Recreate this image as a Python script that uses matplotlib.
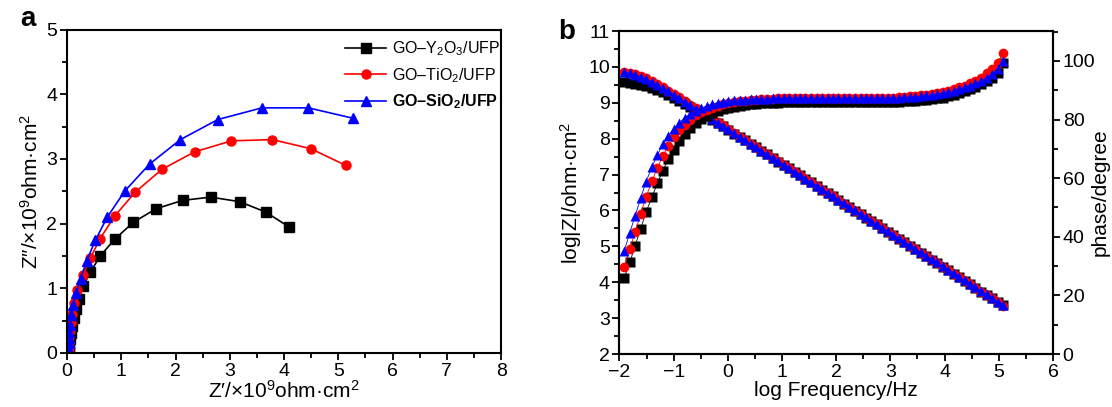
import matplotlib
matplotlib.use("Agg")
import matplotlib.pyplot as plt
from matplotlib.ticker import MultipleLocator

plt.rcParams['font.family'] = ['Liberation Sans', 'DejaVu Sans']
plt.rcParams['mathtext.fontset'] = 'custom'
plt.rcParams['mathtext.rm'] = 'Liberation Sans'
plt.rcParams['mathtext.it'] = 'Liberation Sans:italic'
plt.rcParams['mathtext.bf'] = 'Liberation Sans:bold'
plt.rcParams['mathtext.default'] = 'regular'

labels = ["GO–Y$_2$O$_3$/UFP", "GO–TiO$_2$/UFP", r"$\mathbf{GO–SiO_2/UFP}$"]
colors = ["black", "red", "blue"]
markers = ["s", "o", "^"]

# ---- Panel a: Nyquist data (x10^9 ohm cm2)
y2o3_zre = [4.09, 3.66, 3.18, 2.65, 2.13, 1.64, 1.22, 0.88, 0.61, 0.43, 0.30, 0.22, 0.16, 0.12, 0.09, 0.07, 0.055, 0.045, 0.04, 0.035]
y2o3_zim = [1.95, 2.18, 2.34, 2.41, 2.36, 2.23, 2.02, 1.76, 1.50, 1.25, 1.04, 0.84, 0.68, 0.54, 0.42, 0.31, 0.22, 0.14, 0.07, 0.02]
tio2_zre = [5.14, 4.49, 3.78, 3.03, 2.35, 1.75, 1.26, 0.88, 0.61, 0.43, 0.29, 0.19, 0.13, 0.09, 0.065, 0.05, 0.04, 0.035, 0.03, 0.03]
tio2_zim = [2.90, 3.16, 3.30, 3.28, 3.11, 2.84, 2.49, 2.12, 1.77, 1.47, 1.20, 0.97, 0.77, 0.60, 0.46, 0.34, 0.24, 0.15, 0.08, 0.02]
sio2_zre = [5.27, 4.45, 3.59, 2.78, 2.09, 1.52, 1.07, 0.74, 0.52, 0.36, 0.25, 0.17, 0.11, 0.08, 0.06, 0.045, 0.035, 0.03, 0.025, 0.02]
sio2_zim = [3.63, 3.79, 3.79, 3.61, 3.30, 2.92, 2.51, 2.10, 1.74, 1.42, 1.15, 0.93, 0.74, 0.58, 0.44, 0.33, 0.23, 0.15, 0.08, 0.02]

# ---- Panel b: Bode data
logf = [-1.91, -1.81, -1.71, -1.61, -1.51, -1.40, -1.30, -1.20, -1.10, -1.00,
        -0.90, -0.80, -0.69, -0.59, -0.49, -0.39, -0.29, -0.19, -0.09, 0.01,
        0.12, 0.22, 0.32, 0.42, 0.52, 0.62, 0.72, 0.83, 0.93, 1.03,
        1.13, 1.23, 1.33, 1.43, 1.53, 1.64, 1.74, 1.84, 1.94, 2.04,
        2.14, 2.24, 2.35, 2.45, 2.55, 2.65, 2.75, 2.85, 2.95, 3.05,
        3.16, 3.26, 3.36, 3.46, 3.56, 3.66, 3.76, 3.86, 3.97, 4.07,
        4.17, 4.27, 4.37, 4.47, 4.57, 4.68, 4.78, 4.88, 4.98, 5.08]

sio2_logz = [9.85, 9.82, 9.78, 9.72, 9.66, 9.58, 9.50, 9.41, 9.32, 9.23,
             9.13, 9.03, 8.94, 8.84, 8.74, 8.65, 8.55, 8.45, 8.36, 8.26,
             8.15, 8.06, 7.96, 7.86, 7.77, 7.67, 7.57, 7.47, 7.37, 7.28,
             7.18, 7.08, 6.99, 6.89, 6.79, 6.69, 6.59, 6.49, 6.40, 6.30,
             6.20, 6.11, 6.00, 5.91, 5.81, 5.71, 5.62, 5.52, 5.42, 5.33,
             5.22, 5.12, 5.03, 4.93, 4.83, 4.74, 4.64, 4.55, 4.44, 4.34,
             4.25, 4.15, 4.05, 3.96, 3.86, 3.75, 3.66, 3.56, 3.46, 3.37]
tio2_logz = [9.87, 9.84, 9.80, 9.74, 9.68, 9.60, 9.52, 9.43, 9.34, 9.25,
             9.15, 9.05, 8.95, 8.85, 8.75, 8.66, 8.56, 8.46, 8.37, 8.27,
             8.16, 8.06, 7.96, 7.86, 7.77, 7.67, 7.57, 7.47, 7.37, 7.28,
             7.18, 7.08, 6.98, 6.88, 6.78, 6.68, 6.58, 6.48, 6.39, 6.29,
             6.19, 6.10, 5.99, 5.90, 5.80, 5.70, 5.61, 5.51, 5.41, 5.32,
             5.21, 5.11, 5.02, 4.92, 4.82, 4.73, 4.63, 4.54, 4.43, 4.33,
             4.24, 4.14, 4.04, 3.95, 3.85, 3.74, 3.65, 3.55, 3.45, 3.35]
y2o3_logz = [9.58, 9.56, 9.53, 9.50, 9.46, 9.41, 9.35, 9.29, 9.22, 9.14,
             9.06, 8.98, 8.89, 8.80, 8.71, 8.62, 8.53, 8.44, 8.35, 8.25,
             8.14, 8.05, 7.95, 7.85, 7.76, 7.66, 7.56, 7.46, 7.36, 7.27,
             7.17, 7.07, 6.98, 6.88, 6.78, 6.68, 6.58, 6.48, 6.39, 6.29,
             6.19, 6.10, 5.99, 5.90, 5.80, 5.70, 5.61, 5.51, 5.41, 5.32,
             5.21, 5.11, 5.02, 4.92, 4.82, 4.73, 4.63, 4.54, 4.43, 4.33,
             4.24, 4.14, 4.04, 3.95, 3.85, 3.74, 3.65, 3.55, 3.45, 3.36]

sio2_phase = [35.3, 41.4, 47.2, 53.1, 58.8, 63.8, 68.0, 71.5, 74.5, 76.9,
              78.9, 80.5, 81.9, 83.0, 83.9, 84.6, 85.2, 85.6, 86.0, 86.3,
              86.5, 86.7, 86.8, 86.9, 87.0, 87.1, 87.1, 87.2, 87.2, 87.3,
              87.3, 87.3, 87.3, 87.3, 87.3, 87.3, 87.3, 87.3, 87.3, 87.3,
              87.3, 87.3, 87.3, 87.3, 87.4, 87.4, 87.4, 87.4, 87.4, 87.4,
              87.5, 87.6, 87.7, 87.8, 88.0, 88.2, 88.4, 88.7, 89.0, 89.4,
              89.8, 90.5, 91.0, 91.6, 92.3, 93.2, 94.3, 95.5, 97.2, 100.1]
tio2_phase = [29.8, 35.7, 41.7, 47.7, 53.7, 59.0, 63.6, 67.6, 71.0, 73.9,
              76.3, 78.3, 80.0, 81.4, 82.5, 83.4, 84.1, 84.7, 85.2, 85.6,
              85.9, 86.2, 86.4, 86.6, 86.8, 86.9, 87.0, 87.1, 87.2, 87.3,
              87.4, 87.4, 87.4, 87.4, 87.4, 87.4, 87.4, 87.4, 87.4, 87.4,
              87.4, 87.4, 87.4, 87.4, 87.5, 87.5, 87.5, 87.5, 87.5, 87.5,
              87.7, 87.8, 88.0, 88.1, 88.3, 88.5, 88.8, 89.1, 89.4, 89.8,
              90.3, 91.0, 91.6, 92.3, 93.1, 94.2, 95.8, 97.2, 99.2, 102.8]
y2o3_phase = [26.0, 31.3, 37.0, 42.7, 48.4, 53.6, 58.3, 62.6, 66.4, 69.7,
              72.6, 75.0, 77.1, 78.8, 80.2, 81.3, 82.2, 82.9, 83.5, 84.0,
              84.4, 84.7, 85.0, 85.2, 85.4, 85.5, 85.6, 85.7, 85.8, 85.9,
              85.9, 85.9, 85.9, 85.9, 85.9, 85.9, 85.9, 85.9, 85.9, 86.0,
              86.0, 86.0, 86.0, 86.0, 86.0, 86.0, 86.0, 86.0, 86.0, 86.0,
              86.1, 86.2, 86.3, 86.4, 86.5, 86.7, 86.9, 87.2, 87.5, 87.9,
              88.4, 89.1, 89.7, 90.4, 91.1, 92.0, 93.0, 94.3, 96.0, 99.2]

fig = plt.figure(figsize=(11.12, 4.07), dpi=100)

TICKFS = 14
LABFS = 15

def style_axis(ax):
    for s in ax.spines.values():
        s.set_linewidth(1.5)
    ax.tick_params(which='both', direction='out', width=1.3, labelsize=TICKFS, pad=2)
    ax.tick_params(which='major', length=5)
    ax.tick_params(which='minor', length=3.5)

# Panel a
axa = fig.add_axes([0.0603, 0.1327, 0.3903, 0.7945])
nyq = [(y2o3_zre, y2o3_zim), (tio2_zre, tio2_zim), (sio2_zre, sio2_zim)]
for (zr, zi), c, m, lab in zip(nyq, colors, markers, labels):
    axa.plot(zr, zi, color=c, marker=m, ms=6.5, lw=1.2, label=lab)
axa.set_xlim(0, 8)
axa.set_ylim(0, 5)
axa.xaxis.set_major_locator(MultipleLocator(1))
axa.xaxis.set_minor_locator(MultipleLocator(0.5))
axa.yaxis.set_major_locator(MultipleLocator(1))
axa.yaxis.set_minor_locator(MultipleLocator(0.5))
style_axis(axa)
axa.set_xlabel("Z′/×10$^9$ohm·cm$^2$", fontsize=LABFS, labelpad=0)
axa.set_ylabel("Z″/×10$^9$ohm·cm$^2$", fontsize=LABFS, labelpad=3)
leg = axa.legend(loc='upper right', bbox_to_anchor=(1.02, 1.0), frameon=False,
                 fontsize=11.5, handlelength=2.6, handletextpad=0.35, labelspacing=0.5,
                 borderaxespad=0.2)
fig.text(0.018, 0.935, "a", fontsize=20, fontweight='bold')

# Panel b
axb = fig.add_axes([0.5571, 0.1302, 0.3898, 0.7936])
axr = axb.twinx()
bode_z = [y2o3_logz, tio2_logz, sio2_logz]
bode_p = [y2o3_phase, tio2_phase, sio2_phase]
for zz, c, m in zip(bode_z, colors, markers):
    axb.plot(logf, zz, color=c, marker=m, ms=7, lw=0.6, mec='none', zorder=3)
for pp, c, m in zip(bode_p, colors, markers):
    axr.plot(logf, pp, color=c, marker=m, ms=7, lw=0.6, mec='none', zorder=3)
axb.set_xlim(-2, 6)
axb.set_ylim(2, 11)
axr.set_ylim(0, 110.2)
axb.xaxis.set_major_locator(MultipleLocator(1))
axb.xaxis.set_minor_locator(MultipleLocator(0.5))
axb.yaxis.set_major_locator(MultipleLocator(1))
axb.yaxis.set_minor_locator(MultipleLocator(0.5))
axr.yaxis.set_major_locator(MultipleLocator(20))
axr.yaxis.set_minor_locator(MultipleLocator(10))
style_axis(axb)
style_axis(axr)
axb.set_xlabel("log Frequency/Hz", fontsize=LABFS, labelpad=0)
axb.set_ylabel("log|Z|/ohm·cm$^2$", fontsize=LABFS, labelpad=3)
axr.set_ylabel("phase/degree", fontsize=LABFS)
axr.yaxis.set_label_coords(1.086, 0.5)
fig.text(0.502, 0.905, "b", fontsize=20, fontweight='bold')

fig.savefig("out.png", dpi=100)
